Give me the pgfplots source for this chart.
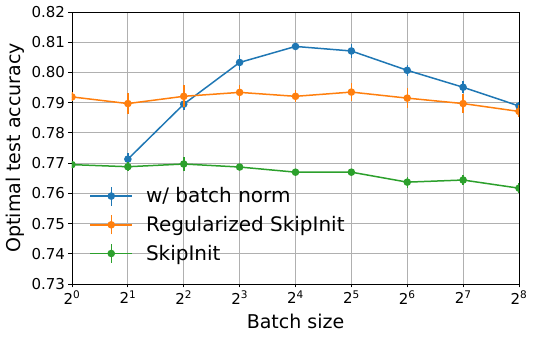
\documentclass[border=0pt]{standalone}
\usepackage{pgfplots}
\pgfplotsset{compat=1.18}
\usepackage{pgfplotstable}
\usepackage{fontspec}
\setmainfont{DejaVu Sans}
\definecolor{c0}{HTML}{1F77B4}
\definecolor{c1}{HTML}{FF7F0E}
\definecolor{c2}{HTML}{2CA02C}
\pgfplotstableread{
x y e
1 0.7713 0.0019
2 0.7895 0.0018
3 0.8033 0.0025
4 0.8086 0.0011
5 0.8071 0.0023
6 0.8007 0.0019
7 0.7951 0.0020
8 0.7889 0.0014
}\bn
\pgfplotstableread{
x y e
0 0.7919 0.0015
1 0.7897 0.0036
2 0.7921 0.0037
3 0.7934 0.0024
4 0.7921 0.0020
5 0.7935 0.0029
6 0.7915 0.0032
7 0.7897 0.0032
8 0.7871 0.0020
}\reg
\pgfplotstableread{
x y e
0 0.7695 0.0010
1 0.7688 0.0014
2 0.7697 0.0022
3 0.7687 0.0010
4 0.7670 0.0010
5 0.7670 0.0012
6 0.7637 0.0018
7 0.7644 0.0018
8 0.7617 0.0017
}\skip
\begin{document}
\begin{tikzpicture}
\begin{axis}[
  scale only axis,
  width=447pt, height=272pt,
  xmin=0, xmax=8, ymin=0.73, ymax=0.82,
  xtick={0,...,8},
  xticklabels={2\textsuperscript{0},2\textsuperscript{1},2\textsuperscript{2},2\textsuperscript{3},2\textsuperscript{4},2\textsuperscript{5},2\textsuperscript{6},2\textsuperscript{7},2\textsuperscript{8}},
  ytick={0.73,0.74,...,0.821},
  yticklabel style={/pgf/number format/.cd, fixed, fixed zerofill, precision=2, assume math mode=true},
  tick label style={font=\fontsize{15}{18}\selectfont},
  label style={font=\fontsize{19}{22}\selectfont},
  xlabel={Batch size},
  xlabel style={yshift=-3pt},
  ylabel={Optimal test accuracy},
  grid=major,
  grid style={color=black!31, line width=0.8pt},
  axis line style={line width=0.8pt},
  tick align=outside, tick pos=left,
  major tick length=3.5pt,
  every tick/.style={black, line width=0.8pt},
  clip marker paths=true,
  legend style={at={(0.032,0.066)}, anchor=south west, draw=none, fill=none,
    font=\fontsize{20}{24}\selectfont, row sep=8pt, column sep=11pt, legend cell align=left},
  legend image code/.code={
    \draw[#1, mark=none] (21pt,-9.5pt) -- (21pt,9.5pt);
    \draw[mark repeat=2,mark phase=2,#1] plot coordinates {(0pt,0pt) (21pt,0pt) (42pt,0pt)};
  },
  every axis plot/.append style={line width=1.5pt, mark=*, mark size=3pt,
    error bars/error bar style={line width=1.5pt}, error bars/error mark=none},
]
\addplot[color=c0, mark options={fill=c0, draw=c0}, error bars/.cd, y dir=both, y explicit] table[x=x, y=y, y error=e] {\bn};
\addlegendentry{w/ batch norm}
\addplot[color=c1, mark options={fill=c1, draw=c1}, error bars/.cd, y dir=both, y explicit] table[x=x, y=y, y error=e] {\reg};
\addlegendentry{Regularized SkipInit}
\addplot[color=c2, mark options={fill=c2, draw=c2}, error bars/.cd, y dir=both, y explicit] table[x=x, y=y, y error=e] {\skip};
\addlegendentry{SkipInit}
\end{axis}
\path (current axis.south west) ++(-72pt,-56pt);
\path (current axis.north east) ++(16pt,12pt);
\end{tikzpicture}
\end{document}
